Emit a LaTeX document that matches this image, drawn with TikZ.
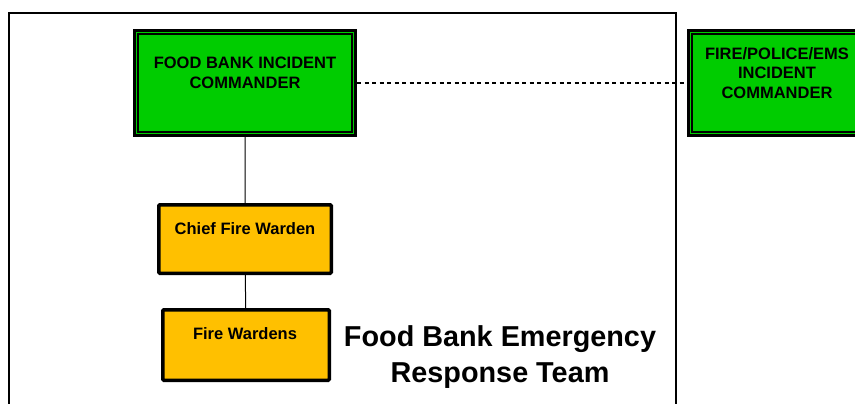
\documentclass[tikz,border=0pt]{standalone}
\usepackage{fontspec}
\setmainfont{Liberation Sans}
\definecolor{cmdgreen}{RGB}{0,204,0}
\definecolor{wardengold}{RGB}{255,192,0}
\begin{document}
\begin{tikzpicture}[x=1bp,y=-1bp]
		\tikzstyle{cmdbox}=[draw,line width=3bp,fill=cmdgreen,minimum height=105bp,inner sep=0pt]
		\tikzstyle{cmdtext}=[anchor=north,align=center,inner sep=0pt,font=\bfseries\fontsize{16.5bp}{19.8bp}\selectfont]
		\tikzstyle{wardenbox}=[draw,line width=3.5bp,fill=wardengold,rounded corners=1bp,inner sep=0pt]
		\tikzstyle{wardentext}=[anchor=base,inner sep=0pt,font=\bfseries\fontsize{16.5bp}{19.8bp}\selectfont]
		\useasboundingbox (0,0) rectangle (855,403);
		\clip (0,0) rectangle (855,403);
		\draw[line width=2bp] (9,410) |- (676,13) -- (676,410);
		\node[cmdbox,minimum width=221bp] (fbic) at (245,83) {};
		\draw[line width=1.2bp] ([shift={(5,5)}]fbic.north west) rectangle ([shift={(-5,-5)}]fbic.south east);
		\node[cmdtext] (fbic_t) at (245,57) {FOOD BANK INCIDENT\\COMMANDER};
		\node[cmdbox,minimum width=177bp] (ficc) at (777,83) {};
		\draw[line width=1.2bp] ([shift={(5,5)}]ficc.north west) rectangle ([shift={(-5,-5)}]ficc.south east);
		\node[cmdtext] (ficc_t) at (777,47) {FIRE/POLICE/EMS\\INCIDENT\\COMMANDER};
		\draw[line width=2bp,dash pattern=on 4bp off 3.5bp] (fbic) -- (ficc);
		\node[wardenbox,minimum width=172.5bp,minimum height=68.5bp] (chief) at (245,239) {};
		\node[wardentext] (chief_t) at (245,234) {Chief Fire Warden};
		\node[wardenbox,minimum width=166.5bp,minimum height=70.5bp] (wardens) at (246,345) {};
		\node[wardentext] (wardens_t) at (245,339.5) {Fire Wardens};
		\draw[line width=1bp] (fbic) -- (chief) (chief) -- (wardens);
		\node[anchor=north,align=center,inner sep=0pt,font=\bfseries\fontsize{28.8bp}{36bp}\selectfont] (title) at (500,325) {Food Bank Emergency\\Response Team};
	\end{tikzpicture}
\end{document}
